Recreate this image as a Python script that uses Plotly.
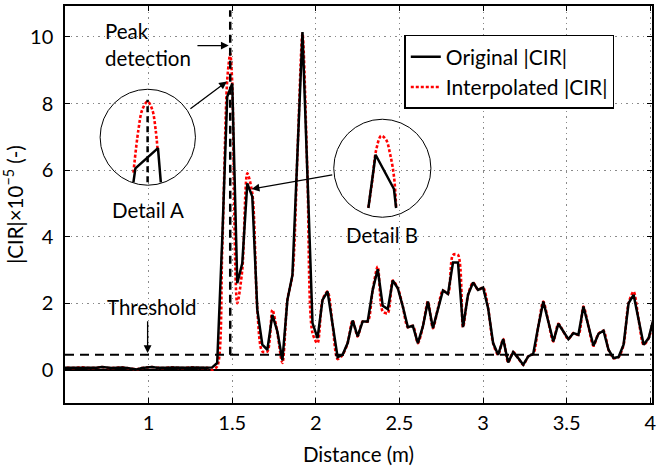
import numpy as np
import plotly.graph_objects as go

# ---------------- data ----------------
distance = np.round(np.arange(0.48, 4.021, 0.03), 2)  # uniform sample grid (m)

original_cir = [
    0.06, 0.06, 0.05, 0.06, 0.07, 0.06, 0.05, 0.06, 0.08, 0.06,
    0.05, 0.06, 0.07, 0.05, 0.03, 0.01, 0.05, 0.07, 0.08, 0.06,
    0.05, 0.06, 0.07, 0.06, 0.05, 0.06, 0.07, 0.06, 0.05, 0.06,
    0.07,                                   # 0.48 .. 1.38
    0.2, 3.9, 8.2, 8.6, 2.6, 3.2, 5.6, 5.2, 1.8, 0.75,   # 1.41 .. 1.68
    0.6, 1.65, 1.15, 0.28, 2.1, 2.85, 6.5, 10.15, 5.8, 1.4,  # 1.71 .. 1.98
    0.95, 2.1, 2.35, 1.35, 0.38, 0.45, 0.8, 1.48, 1.0, 1.45,  # 2.01 .. 2.28
    1.45, 2.4, 3.02, 1.92, 1.82, 2.68, 2.45, 1.9, 1.28, 1.32,  # 2.31 .. 2.58
    0.8, 1.3, 2.05, 1.25, 1.85, 2.38, 2.28, 3.22, 3.22, 1.28,  # 2.61 .. 2.88
    2.25, 2.62, 2.4, 2.47, 1.85, 0.8, 0.45, 0.92, 0.22, 0.53,  # 2.91 .. 3.18
    0.35, 0.15, 0.4, 0.48, 1.3, 2.05, 1.45, 0.85, 1.38, 1.15,  # 3.21 .. 3.48
    0.92, 1.1, 1.05, 1.9, 1.3, 0.72, 1.08, 1.17, 0.6, 0.35,    # 3.51 .. 3.78
    0.38, 0.75, 2.0, 2.25, 1.5, 0.75, 0.95, 1.55,              # 3.81 .. 4.02
]

# interpolated |CIR|: where it differs visibly from the original
interp_changes = {
    1.38: 0.0, 1.41: 0.1, 1.44: 3.6, 1.47: 8.7, 1.50: 8.6, 1.53: 2.0,
    1.56: 3.0, 1.59: 5.9, 1.62: 5.3, 1.68: 0.55, 1.71: 0.55, 1.74: 1.8,
    1.77: 1.1, 1.80: 0.2, 1.92: 10.1, 1.98: 1.1, 2.01: 0.8, 2.13: 0.32,
    2.37: 3.1, 2.40: 1.75, 2.43: 1.7, 2.82: 3.45, 2.85: 3.45, 3.90: 2.35,
}
interp_extra_x = [1.488]
interp_extra_y = [9.5]

threshold = 0.45
peak_x = 1.488
peak_top = 10.8

# detail sketches (drawn in axis units)
detA_orig_x = [0.909, 0.921, 1.056, 1.073]
detA_orig_y = [5.63, 6.05, 6.66, 5.63]
detA_int_x = [0.909, 0.939, 0.962, 0.994, 1.022, 1.042, 1.053]
detA_int_y = [5.92, 7.21, 7.81, 8.06, 7.81, 7.21, 6.66]
detB_orig_x = [2.314, 2.357, 2.467, 2.480]
detB_orig_y = [4.86, 6.46, 5.43, 4.86]
detB_int_x = [2.314, 2.338, 2.361, 2.391, 2.420, 2.445, 2.468, 2.480]
detB_int_y = [4.87, 5.71, 6.61, 7.03, 6.91, 6.46, 5.77, 4.87]

# ---------------- build interpolated series ----------------
ix = list(distance)
iy = [interp_changes.get(round(float(x), 2), v) for x, v in zip(distance, original_cir)]
for ex, ey in zip(interp_extra_x, interp_extra_y):
    ix.append(ex)
    iy.append(ey)
order = np.argsort(ix)
ix = [ix[i] for i in order]
iy = [iy[i] for i in order]

FONT = "Lato"
TXT = 20.5
fig = go.Figure()

fig.add_trace(go.Scatter(
    x=ix, y=iy, mode="lines", name="Interpolated |CIR|",
    line=dict(color="#ff0000", width=2.6, dash="3px,2px", shape="spline", smoothing=0.8),
))
fig.add_trace(go.Scatter(
    x=distance, y=original_cir, mode="lines", name="Original |CIR|",
    line=dict(color="black", width=2.5),
))

# detail sketches
for xs, ys, red in [(detA_int_x, detA_int_y, True), (detA_orig_x, detA_orig_y, False),
                    (detB_int_x, detB_int_y, True), (detB_orig_x, detB_orig_y, False)]:
    fig.add_trace(go.Scatter(
        x=xs, y=ys, mode="lines", showlegend=False, hoverinfo="skip",
        line=(dict(color="#ff0000", width=2.6, dash="3px,2px", shape="spline")
              if red else dict(color="black", width=2.5)),
    ))

# threshold and peak lines
fig.add_shape(type="line", xref="x", yref="y", x0=0.5, x1=4.01, y0=threshold, y1=threshold,
              line=dict(color="black", width=2, dash="9px,6px"))
fig.add_shape(type="line", xref="x", yref="y", x0=peak_x, x1=peak_x, y0=threshold, y1=peak_top,
              line=dict(color="black", width=2.5, dash="8px,5px"))
fig.add_shape(type="line", xref="x", yref="y", x0=detA_int_x[3], x1=detA_int_x[3],
              y0=detA_orig_y[0], y1=detA_int_y[3] + 0.05,
              line=dict(color="black", width=2.5, dash="6px,4px"))

# detail circles
fig.add_shape(type="circle", xref="x", yref="y", x0=0.710, x1=1.280, y0=5.544, y1=8.428,
              line=dict(color="black", width=1))
fig.add_shape(type="circle", xref="x", yref="y", x0=2.107, x1=2.688, y0=4.582, y1=7.527,
              line=dict(color="black", width=1))

# texts and arrows
def arrow(x, y, ax, ay):
    fig.add_annotation(x=x, y=y, ax=ax, ay=ay, xref="x", yref="y", axref="x", ayref="y",
                       text="", showarrow=True, arrowhead=2, arrowsize=1.2, arrowwidth=1.3,
                       arrowcolor="black")

arrow(1.479, 9.74, 1.283, 9.74)
arrow(1.468, 8.66, 1.241, 7.81)
arrow(1.616, 5.43, 2.107, 5.86)
arrow(0.994, 0.50, 0.994, 1.50)

def label(text, x, y, xanchor="center"):
    fig.add_annotation(x=x, y=y, xref="x", yref="y", text=text, showarrow=False,
                       xanchor=xanchor, yanchor="middle", align="left",
                       font=dict(family=FONT, size=TXT, color="black"))

label("Peak<br>detection", 0.73, 9.77, xanchor="left")
label("Threshold", 1.022, 1.89)
label("Detail A", 0.995, 4.81)
label("Detail B", 2.394, 4.06)

axis_common = dict(
    showline=True, linecolor="black", linewidth=1.5, mirror="ticks",
    ticks="inside", ticklen=5, tickwidth=1.2, tickcolor="black",
    showgrid=True, gridcolor="#8a8a8a", gridwidth=1, griddash="1.5px,4px",
    tickfont=dict(family=FONT, size=20, color="black"),
    ticklabeloverflow="allow",
)

fig.update_xaxes(
    range=[0.5, 4.01], tickvals=[1, 1.5, 2, 2.5, 3, 3.5, 4],
    ticktext=["1", "1.5", "2", "2.5", "3", "3.5", "4"], zeroline=False,
    title=dict(text="Distance (m)", font=dict(family=FONT, size=TXT, color="black"), standoff=16),
    ticklabelstandoff=1,
    **axis_common,
)
fig.update_yaxes(
    range=[-1, 10.93], tickvals=[0, 2, 4, 6, 8, 10],
    zeroline=True, zerolinecolor="black", zerolinewidth=1.5,
    title=dict(text="|CIR|×10<sup>−5</sup> (-)", font=dict(family=FONT, size=TXT, color="black"),
               standoff=5),
    ticklabelstandoff=6,
    **axis_common,
)

fig.update_layout(
    width=657, height=466,
    margin=dict(l=65, r=0, t=6, b=63),
    plot_bgcolor="white", paper_bgcolor="white",
    font=dict(family=FONT, size=TXT, color="black"),
    legend=dict(x=0.578, y=0.927, xanchor="left", yanchor="top",
                bgcolor="white", bordercolor="black", borderwidth=1.5,
                traceorder="reversed", font=dict(family=FONT, size=21, color="black"),
                itemwidth=30, tracegroupgap=0),
)

fig.write_html("out.html")
